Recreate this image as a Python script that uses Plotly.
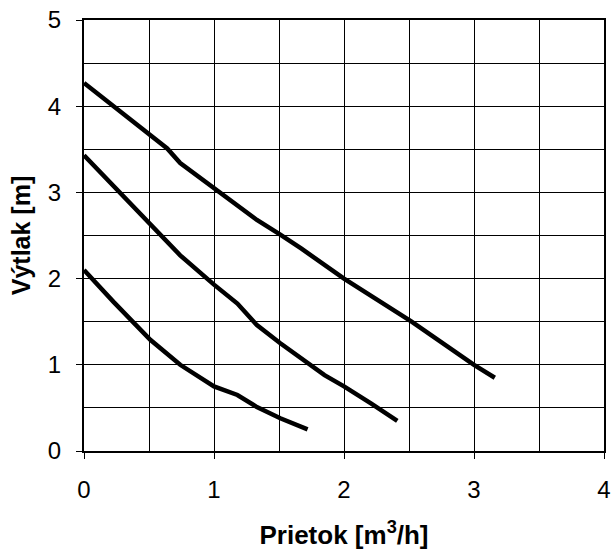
import plotly.graph_objects as go

# Curve data
x_top = [0.0, 0.2, 0.51, 0.64, 0.74, 1.0, 1.33, 1.51, 1.67, 2.0, 2.41, 2.52, 3.0, 3.16]
y_top = [4.27, 4.03, 3.65, 3.51, 3.34, 3.05, 2.68, 2.51, 2.35, 2.0, 1.60, 1.50, 1.0, 0.85]

x_mid = [0.0, 0.265, 0.51, 0.74, 1.0, 1.18, 1.33, 1.51, 1.85, 2.0, 2.21, 2.41]
y_mid = [3.43, 3.01, 2.62, 2.27, 1.93, 1.71, 1.46, 1.25, 0.88, 0.75, 0.55, 0.35]

x_bot = [0.0, 0.227, 0.51, 0.74, 1.0, 1.18, 1.33, 1.51, 1.72]
y_bot = [2.10, 1.73, 1.29, 1.0, 0.75, 0.65, 0.51, 0.38, 0.25]

x_ticks = [0, 1, 2, 3, 4]
y_ticks = [0, 1, 2, 3, 4, 5]

FONT = "Liberation Sans, Arial, sans-serif"

fig = go.Figure()
for xs, ys in [(x_top, y_top), (x_mid, y_mid), (x_bot, y_bot)]:
    fig.add_trace(go.Scatter(x=xs, y=ys, mode="lines",
                             line=dict(color="black", width=4.5),
                             showlegend=False, hoverinfo="skip"))

fig.update_layout(
    width=614, height=550,
    margin=dict(l=84, r=10, t=20, b=99),
    paper_bgcolor="white", plot_bgcolor="white",
    font=dict(family=FONT, color="black", size=24),
)
fig.update_xaxes(
    range=[0, 4], tickvals=x_ticks, ticktext=[str(v) for v in x_ticks],
    showgrid=True, gridcolor="black", gridwidth=1,
    minor=dict(dtick=0.5, showgrid=True, gridcolor="black", gridwidth=1, ticks=""),
    showline=True, linecolor="black", linewidth=2, mirror=True,
    ticks="outside", ticklen=6, tickwidth=1, tickcolor="black",
    ticklabelstandoff=10, automargin=False,
    zeroline=False,
    title=dict(text="<b>Prietok [m<sup>3</sup>/h]</b>", font=dict(size=26), standoff=42),
)
fig.update_yaxes(
    range=[0, 5], tickvals=y_ticks, ticktext=[str(v) for v in y_ticks],
    showgrid=True, gridcolor="black", gridwidth=1,
    minor=dict(dtick=0.5, showgrid=True, gridcolor="black", gridwidth=1, ticks=""),
    showline=True, linecolor="black", linewidth=2, mirror=True,
    ticks="outside", ticklen=6, tickwidth=1, tickcolor="black",
    ticklabelstandoff=10, automargin=False,
    zeroline=False,
    title=dict(text="<b>Výtlak [m]</b>", font=dict(size=25), standoff=10),
)

# remove the browser's default 8px body margin so the figure sits at the page origin
fig.write_html("out.html", config={"displayModeBar": False},
               post_script="document.body.style.margin='0';")
